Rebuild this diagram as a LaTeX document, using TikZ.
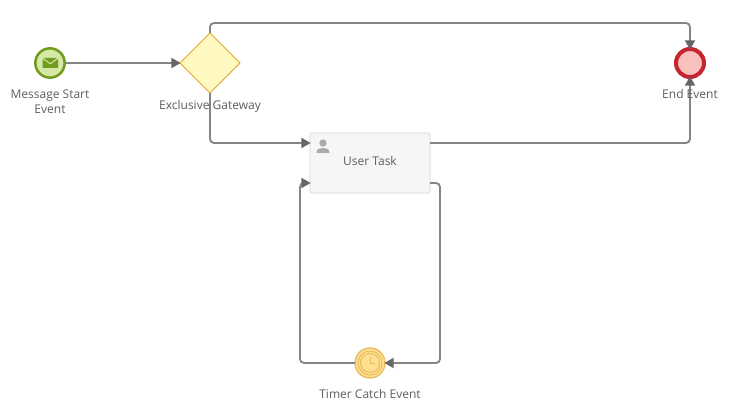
\documentclass[tikz,border=0pt]{standalone}
\usepackage{fontspec}
\setmainfont{Open Sans}
\usetikzlibrary{shapes.geometric,arrows.meta}
\definecolor{flowc}{HTML}{858585}
\definecolor{tipc}{HTML}{666666}
\definecolor{labelc}{HTML}{5E5E5E}
\tikzset{
  flow/.style={draw=flowc,line width=1.4pt,rounded corners=3pt,
    -{Triangle[length=7pt,width=7.5pt,color=tipc]},shorten >=-0.5pt},
  evt/.style={circle,inner sep=0pt,outer sep=0pt},
  startevt/.style={evt,minimum size=22pt,fill=startfill,draw=startline,line width=1.9pt},
  endevt/.style={evt,minimum size=21pt,fill=endfill,draw=endline,line width=3pt},
  timerevt/.style={evt,minimum size=22.5pt,fill=timerfill,draw=timerline,line width=1pt},
  gate/.style={diamond,aspect=1,inner sep=0pt,outer sep=0pt,minimum width=45pt,minimum height=45pt,fill=gatefill,draw=gateline,line width=0.7pt},
  taskbox/.style={rectangle,rounded corners=1.5pt,inner sep=0pt,outer sep=0pt,minimum width=90pt,minimum height=45pt,fill=taskfill,draw=taskline,line width=1pt},
  lbl/.style={text=labelc,font=\fontsize{9pt}{11.3pt}\selectfont,align=center,inner sep=0pt},
}
\definecolor{startfill}{HTML}{D6E8A6}
\definecolor{startline}{HTML}{729C1E}
\definecolor{endfill}{HTML}{F8C1BD}
\definecolor{endline}{HTML}{C62530}
\definecolor{timerfill}{HTML}{FFE08F}
\definecolor{timerline}{HTML}{E8BC60}
\definecolor{gatefill}{HTML}{FFF8C0}
\definecolor{gateline}{HTML}{E2A928}
\definecolor{taskfill}{HTML}{F6F6F6}
\definecolor{taskline}{HTML}{E6E6E6}
\definecolor{iconc}{HTML}{ABABAB}
\begin{document}
\begin{tikzpicture}[x=0.75pt,y=-0.75pt]
\useasboundingbox (0,0) rectangle (740,413);
\fill[white] (0,0) rectangle (740,413);
% nodes
\node[startevt] (start) at (50,63) {};
\node[gate] (gw) at (210,63) {};
\node[taskbox] (task) at (370,163) {};
\node[endevt] (end) at (690,63) {};
\node[timerevt] (timer) at (370,363) {};
% connector anchor points
\coordinate (taskinA) at (310,143);
\coordinate (taskinB) at (310,183);
\coordinate (taskoutA) at (430,143);
\coordinate (taskoutB) at (430,183);
% connectors
\draw[flow] (start.east) -- (gw.west);
\draw[flow] (gw.north) |- (690,23) -- (end.north);
\draw[flow] (gw.south) |- (taskinA);
\draw[flow] (taskoutA) -| (end.south);
\draw[flow] (taskoutB) -- (440,183) -- (440,363) -- (timer.east);
\draw[flow] (timer.west) -- (300,363) -- (300,183) -- (taskinB);
% envelope icon
\fill[startline] (42.5,59) -- (50.3,64.5) -- (58,59) -- (58,68) -- (42.5,68) -- cycle;
\fill[startline] (43.5,58) -- (57,58) -- (50.3,63) -- cycle;
% user icon
\fill[iconc] (323,143) circle (3.7);
\fill[iconc] (316.5,153) .. controls (316.5,148.5) and (320,148) .. (323,148) .. controls (326,148) and (329.5,148.5) .. (329.5,153) -- cycle;
% timer rings and clock
\draw[timerline,line width=0.75pt] (timer) circle (12);
\draw[timerline,line width=0.75pt] (timer) circle (9.5);
\draw[timerline,line width=0.7pt] (370,357) -- (370,363.5) -- (375,363.5);
% labels
\node[lbl] (startlabel) at (50,102) {Message Start\\Event};
\node[lbl] (gwlabel) at (210,106) {Exclusive Gateway};
\node[lbl] (tasklabel) at (370,161) {User Task};
\node[lbl] (endlabel) at (690,94) {End Event};
\node[lbl] (timerlabel) at (370,394) {Timer Catch Event};
\end{tikzpicture}
\end{document}
